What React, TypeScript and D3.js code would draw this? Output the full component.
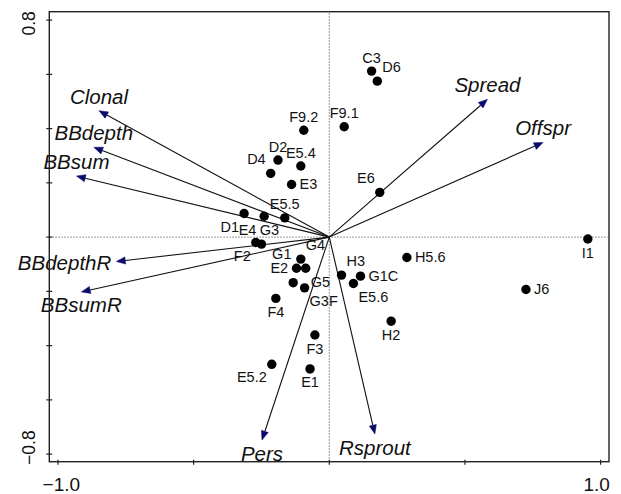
import React from 'react';
import * as d3 from 'd3';

// sample scores (axis 1, axis 2)
const siteNames = ['C3', 'D6', 'F9.2', 'F9.1', 'D2', 'E5.4', 'D4', 'E3', 'E6', 'D1', 'G3', 'E5.5', 'E4', 'F2', 'G4',
  'G1', 'G5', 'E2', 'G3F', 'H3', 'G1C', 'E5.6', 'F4', 'H2', 'F3', 'E5.2', 'E1', 'H5.6', 'I1', 'J6'];
const siteAxis1 = [0.156, 0.177, -0.094, 0.055, -0.189, -0.105, -0.216, -0.139, 0.186, -0.314, -0.240, -0.164, -0.250, -0.271, -0.105,
  -0.121, -0.087, -0.133, -0.091, 0.045, 0.115, 0.089, -0.197, 0.228, -0.053, -0.212, -0.071, 0.286, 0.953, 0.725];
const siteAxis2 = [0.612, 0.575, 0.394, 0.407, 0.284, 0.262, 0.235, 0.194, 0.165, 0.087, 0.077, 0.071, -0.026, -0.020, -0.081,
  -0.115, -0.115, -0.168, -0.187, -0.140, -0.144, -0.171, -0.226, -0.310, -0.361, -0.469, -0.486, -0.075, -0.007, -0.193];

// trait arrows
const traitNames = ['Clonal', 'BBdepth', 'BBsum', 'BBdepthR', 'BBsumR', 'Pers', 'Rsprout', 'Spread', 'Offspr'];
const traitAxis1 = [-0.849, -0.868, -0.932, -0.785, -0.914, -0.248, 0.168, 0.583, 0.788];
const traitAxis2 = [0.466, 0.331, 0.225, -0.090, -0.202, -0.748, -0.726, 0.508, 0.349];

const xTicks = [-1, -0.5, 0, 0.5, 1];
const yTicks = [-0.8, -0.6, -0.4, -0.2, 0, 0.2, 0.4, 0.6, 0.8];
const xTickLabelValues = [-1, 1];
const xTickLabels = ['\u22121.0', '1.0'];
const yTickLabelValues = [-0.8, 0.8];
const yTickLabels = ['\u22120.8', '0.8'];

// label placement around each sample point (layout only)
const siteLabelSide = ['top', 'topright', 'top', 'top', 'top', 'top', 'topleft', 'right', 'topleft', 'bottomleft', 'belowright', 'top',
  'topleft', 'bottomleft', 'topright', 'topleft', 'bottomright', 'topleft', 'bottomright', 'topright', 'right', 'bottomright',
  'bottom', 'bottom', 'bottom', 'bottomleft', 'bottom', 'right', 'bottom', 'right'];
const sideOffset: Record<string, [number, number, string]> = {
  top: [0, -8.5, 'middle'],
  bottom: [0, 18.5, 'middle'],
  right: [8, 5, 'start'],
  topleft: [-5, -9.5, 'end'],
  topright: [5, -9.5, 'start'],
  bottomleft: [-5, 18, 'end'],
  bottomright: [5, 18.5, 'start'],
  belowright: [-4.5, 18.5, 'start'],
};

const W = 621;
const H = 494;
const font = 'Liberation Sans, Arial, Helvetica, sans-serif';

export default function App() {
  const x = d3.scaleLinear().domain([-1.032, 1.031]).range([49.3, 609]);
  const y = d3.scaleLinear().domain([-0.828, 0.831]).range([461.7, 11.7]);
  const [x0, x1] = x.range();
  const [y0, y1] = y.range();
  const ox = x(0);
  const oy = y(0);

  const arrows = traitNames.map((name, i) => {
    const tx = x(traitAxis1[i]);
    const ty = y(traitAxis2[i]);
    const len = Math.hypot(tx - ox, ty - oy);
    const ux = (tx - ox) / len;
    const uy = (ty - oy) / len;
    const bx = tx - ux * 9;
    const by = ty - uy * 9;
    const head = [
      [tx, ty],
      [bx - uy * 3.6, by + ux * 3.6],
      [bx + uy * 3.6, by - ux * 3.6],
    ];
    // label: beside the tip when nearly horizontal, else above / below
    const ang = Math.abs(Math.atan2(traitAxis2[i], traitAxis1[i]) * 180 / Math.PI);
    const flat = ang < 10 || ang > 170;
    let lx = tx, ly = ty, anchor = 'middle';
    if (flat) {
      anchor = traitAxis1[i] < 0 ? 'end' : 'start';
      lx = tx + (traitAxis1[i] < 0 ? -5 : 5);
      ly = ty + 8.5;
    } else if (traitAxis2[i] > 0) {
      ly = ty - 7;
    } else {
      ly = ty + 20.5;
    }
    return {name, bx, by, head, lx, ly, anchor};
  });

  return (
    <svg width={W} height={H} style={{position: 'absolute', left: 0, top: 0, background: '#fff'}}
         fontFamily={font}>
      {/* zero lines */}
      <line x1={x0} x2={x1} y1={oy} y2={oy} stroke="#777" strokeWidth={1} strokeDasharray="1.5,1.5"/>
      <line x1={ox} x2={ox} y1={y0} y2={y1} stroke="#777" strokeWidth={1} strokeDasharray="1.5,1.5"/>

      {/* trait arrows */}
      {arrows.map(a => (
        <g key={a.name}>
          <line x1={ox} y1={oy} x2={a.bx} y2={a.by} stroke="#111" strokeWidth={1.1}/>
          <polygon points={a.head.map(p => p.join(',')).join(' ')} fill="#0b0b6b" stroke="#0b0b6b" strokeWidth={0.5}/>
          <text x={a.lx} y={a.ly} textAnchor={a.anchor} fontSize={20.5} fontStyle="italic" fill="#111">{a.name}</text>
        </g>
      ))}

      {/* sample points */}
      {siteNames.map((name, i) => (
        <circle key={name} cx={x(siteAxis1[i])} cy={y(siteAxis2[i])} r={4.7} fill="#000"/>
      ))}
      {siteNames.map((name, i) => {
        const [dx, dy, anchor] = sideOffset[siteLabelSide[i]];
        return (
          <text key={name} x={x(siteAxis1[i]) + dx} y={y(siteAxis2[i]) + dy} textAnchor={anchor}
                fontSize={14.5} fill="#111">{name}</text>
        );
      })}

      {/* frame and ticks */}
      <rect x={x0} y={y1} width={x1 - x0} height={y0 - y1} fill="none" stroke="#222" strokeWidth={1.4}/>
      {xTicks.map(t => (
        <line key={'xt' + t} x1={x(t)} x2={x(t)} y1={y0 - 2} y2={y0 + 3} stroke="#222" strokeWidth={1.2}/>
      ))}
      {yTicks.map(t => (
        <line key={'yt' + t} x1={x0 - 3} x2={x0 + 3} y1={y(t)} y2={y(t)} stroke="#222" strokeWidth={1.2}/>
      ))}
      {xTickLabelValues.map((v, i) => (
        <text key={'xl' + v} x={x(v) + (v < 0 ? 3.4 : -4)} y={491} textAnchor="middle" fontSize={19} fill="#111">
          {xTickLabels[i]}
        </text>
      ))}
      {yTickLabelValues.map((v, i) => (
        <text key={'yl' + v} transform={`translate(35,${y(v) + (v > 0 ? 3.3 : -6.5)}) rotate(-90)`}
              textAnchor="middle" fontSize={17.5} fill="#111">
          {yTickLabels[i]}
        </text>
      ))}
    </svg>
  );
}
